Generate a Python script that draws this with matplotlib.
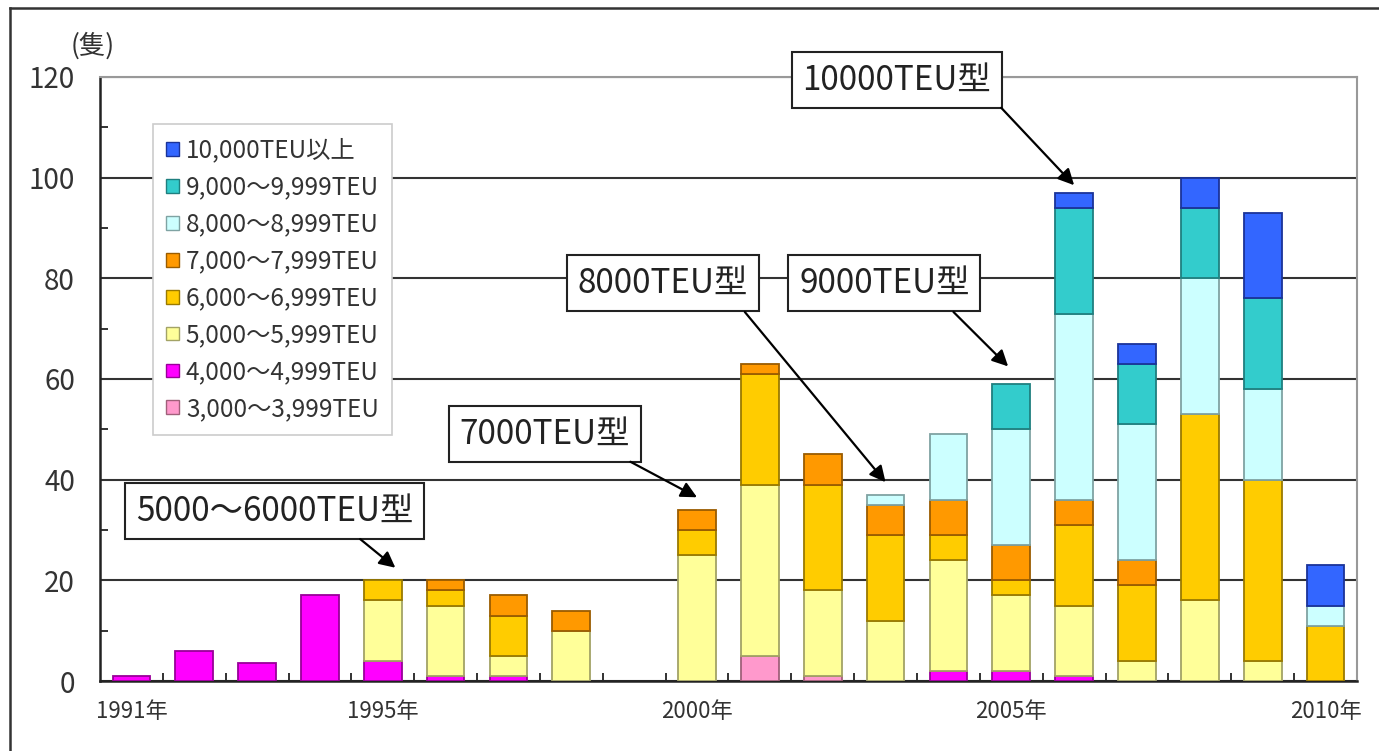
import numpy as np
import matplotlib
matplotlib.use("Agg")
import matplotlib.pyplot as plt
from matplotlib.patches import Patch
from matplotlib.lines import Line2D

plt.rcParams['font.family'] = ['Noto Sans CJK JP', 'DejaVu Sans']

# data: ships delivered per year by size class
years = list(range(1991, 2011))
tick_years = [1991, 1995, 2000, 2005, 2010]

teu_3000 = [0, 0, 0, 0, 0, 0, 0, 0, 0, 0, 5, 1, 0, 0, 0, 0, 0, 0, 0, 0]
teu_4000 = [1, 6, 3.5, 17, 4, 1, 1, 0, 0, 0, 0, 0, 0, 2, 2, 1, 0, 0, 0, 0]
teu_5000 = [0, 0, 0, 0, 12, 14, 4, 10, 0, 25, 34, 17, 12, 22, 15, 14, 4, 16, 4, 0]
teu_6000 = [0, 0, 0, 0, 4, 3, 8, 0, 0, 5, 22, 21, 17, 5, 3, 16, 15, 37, 36, 11]
teu_7000 = [0, 0, 0, 0, 0, 2, 4, 4, 0, 4, 2, 6, 6, 7, 7, 5, 5, 0, 0, 0]
teu_8000 = [0, 0, 0, 0, 0, 0, 0, 0, 0, 0, 0, 0, 2, 13, 23, 37, 27, 27, 18, 4]
teu_9000 = [0, 0, 0, 0, 0, 0, 0, 0, 0, 0, 0, 0, 0, 0, 9, 21, 12, 14, 18, 0]
teu_10000 = [0, 0, 0, 0, 0, 0, 0, 0, 0, 0, 0, 0, 0, 0, 0, 3, 4, 6, 17, 8]

labels = ['3,000～3,999TEU', '4,000～4,999TEU', '5,000～5,999TEU', '6,000～6,999TEU',
          '7,000～7,999TEU', '8,000～8,999TEU', '9,000～9,999TEU', '10,000TEU以上']
series = [teu_3000, teu_4000, teu_5000, teu_6000, teu_7000, teu_8000, teu_9000, teu_10000]
colors = ['#FF99CC', '#FF00FF', '#FFFF99', '#FFCC00', '#FF9900', '#CCFFFF', '#33CCCC', '#3366FF']
edges = ['#a0607a', '#990099', '#a3a366', '#9a7a00', '#9a5c00', '#7fa3a3', '#1f7f7f', '#1a3399']

# callouts: text, year pointed at, box centre / arrow tail (axes fraction), tip offsets
notes = [
    ('5000～6000TEU型', 1995, (0.139, 0.281), (0.207, 0.235), 0.2, 2.5),
    ('7000TEU型', 2000, (0.354, 0.409), (0.422, 0.363), 0.0, 2.5),
    ('8000TEU型', 2003, (0.448, 0.659), (0.513, 0.611), 0.0, 2.5),
    ('9000TEU型', 2005, (0.624, 0.659), (0.679, 0.611), -0.05, 3.5),
    ('10000TEU型', 2006, (0.634, 0.995), (0.717, 0.949), 0.0, 1.5),
]

fig = plt.figure(figsize=(13.79, 7.51), dpi=100)
ax = fig.add_axes([0.0725, 0.0932, 0.9115, 0.8043])

x = np.arange(len(years))
bottom = np.zeros(len(years))
for vals, col, ec in zip(series, colors, edges):
    vals = np.asarray(vals, dtype=float)
    nz = vals > 0
    ax.bar(x[nz], vals[nz], width=0.6, bottom=bottom[nz], color=col, edgecolor=ec,
           linewidth=1.3, zorder=3)
    bottom += vals
totals = bottom

ax.set_xlim(-0.5, len(years) - 0.5)
ax.set_ylim(0, 120)
ax.set_yticks(np.arange(0, 121, 20))
ax.set_yticks(np.arange(10, 120, 20), minor=True)
ax.set_xticks([years.index(y) for y in tick_years])
ax.set_xticklabels([f'{y}年' for y in tick_years], fontsize=16, color='#333333')
ax.set_xticks(np.arange(0.5, len(years) - 1, 1), minor=True)
ax.tick_params(axis='x', which='major', length=0, pad=14)
ax.tick_params(axis='x', which='minor', direction='in', length=6, width=1.3, color='#222222')
ax.tick_params(axis='y', which='major', length=0, pad=18, labelsize=20, labelcolor='#333333')
ax.tick_params(axis='y', which='minor', direction='in', length=6, width=1.3, color='#222222')

ax.set_axisbelow(True)
ax.yaxis.grid(True, color='#333333', linewidth=1.5)
for side in ['top', 'right']:
    ax.spines[side].set_color('#999999')
    ax.spines[side].set_linewidth(1.5)
for side in ['left', 'bottom']:
    ax.spines[side].set_color('#222222')
    ax.spines[side].set_linewidth(1.8)

handles = [Patch(facecolor=c, edgecolor=e, linewidth=1) for c, e in zip(colors, edges)][::-1]
leg = ax.legend(handles, labels[::-1], loc='upper left', bbox_to_anchor=(0.0422, 0.922),
                borderaxespad=0, fontsize=17.5, handlelength=0.5, handleheight=0.5,
                handletextpad=0.3, labelspacing=0.45, borderpad=0.55, fancybox=False,
                framealpha=1, edgecolor='#cccccc', labelcolor='#333333')
leg.get_frame().set_linewidth(1.2)
leg.set_zorder(5)

for text, yr, box_xy, tail_xy, dx, dy in notes:
    i = years.index(yr)
    ax.text(box_xy[0], box_xy[1], text, transform=ax.transAxes, ha='center', va='center',
            fontsize=24, color='#222222', zorder=6,
            bbox=dict(boxstyle='square,pad=0.32', facecolor='white', edgecolor='#222222', linewidth=1.5))
    ax.annotate('', xy=(i + dx, totals[i] + dy), xycoords='data',
                xytext=tail_xy, textcoords='axes fraction',
                arrowprops=dict(arrowstyle='-|>', color='black', lw=1.6, mutation_scale=24,
                                shrinkA=0, shrinkB=0), zorder=6)

fig.text(0.0674, 0.9387, '(隻)', ha='center', va='center', fontsize=19, color='#333333')

# outer frame of the original figure (runs off the right and bottom edges)
fig.add_artist(Line2D([0.00725, 1.0], [0.9893, 0.9893], transform=fig.transFigure, color='#333333', lw=1.8))
fig.add_artist(Line2D([0.00725, 0.00725], [0.0, 0.9893], transform=fig.transFigure, color='#333333', lw=1.8))

fig.savefig('out.png', dpi=100)
